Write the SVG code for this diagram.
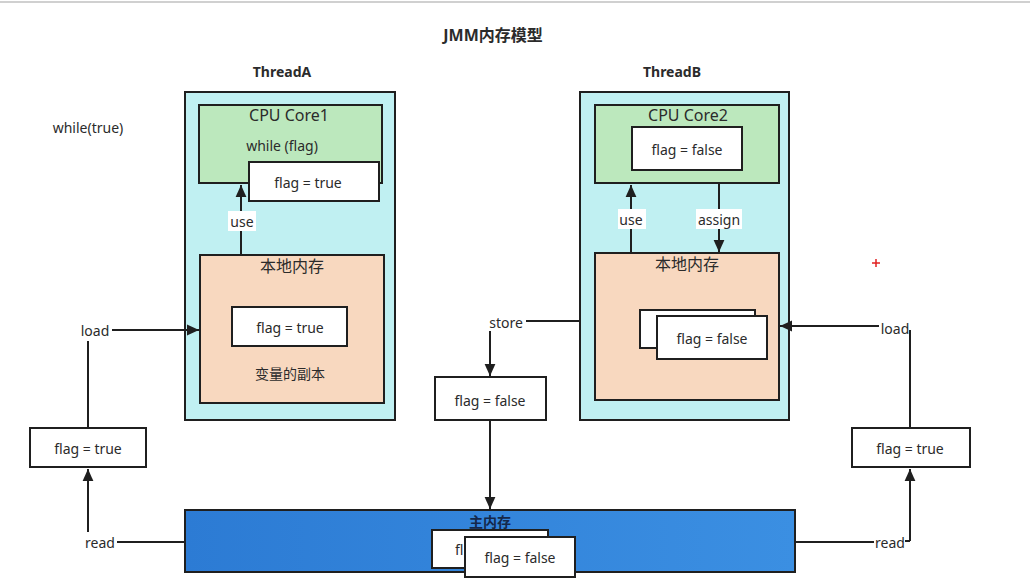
<svg xmlns="http://www.w3.org/2000/svg" width="1030" height="582" viewBox="0 0 1030 582">
<defs>
<marker id="ah" viewBox="0 0 10 10" refX="10" refY="5" markerWidth="6" markerHeight="6" orient="auto" markerUnits="strokeWidth"><path d="M0,0.5 L10,5 L0,9.5 z" fill="#1f1f1f"/></marker>
<linearGradient id="mg" x1="0" y1="0" x2="1" y2="0"><stop offset="0" stop-color="#2c7bd4"/><stop offset="1" stop-color="#3b8fe2"/></linearGradient>
</defs>
<style>
text{font-family:"Noto Sans","Noto Sans CJK SC",sans-serif;fill:#2b2b2b;text-anchor:middle;dominant-baseline:central}
.t{font-size:14px}
.h{font-size:16px}
.b{font-weight:bold;font-size:14px}
.box{stroke:#1f1f1f;stroke-width:2}
.w{fill:#fff}
.ln{fill:none;stroke:#1f1f1f;stroke-width:2}
.lbl{fill:#fff}
</style>
<rect width="1030" height="582" fill="#fff"/>
<line x1="0" y1="2" x2="1030" y2="2" stroke="#d0d0d0" stroke-width="2"/>
<text x="493" y="35" class="b" style="font-size:16px">JMM内存模型</text>
<text x="282" y="71" class="b">ThreadA</text>
<text x="672" y="71" class="b">ThreadB</text>
<text x="88" y="127" class="t">while(true)</text>

<g id="threadA">
<rect x="185" y="92" width="210" height="328" class="box" fill="#c0f0f2"/>
</g>
<g id="core1">
<rect x="199" y="105" width="183" height="78" class="box" fill="#bce8bd"/>
<text x="289" y="115" class="h">CPU Core1</text>
<text x="282" y="145" class="t">while (flag)</text>
</g>
<g id="core1-flag">
<rect x="249" y="162" width="130" height="39" class="box w"/>
<text x="308" y="182" class="t">flag = true</text>
</g>
<g id="localA">
<rect x="200" y="255" width="184" height="148" class="box" fill="#f8d8bf"/>
<text x="292" y="266" class="h">本地内存</text>
<text x="290" y="373" class="t">变量的副本</text>
</g>
<g id="localA-flag">
<rect x="232" y="307" width="115" height="39" class="box w"/>
<text x="290" y="327" class="t">flag = true</text>
</g>

<g id="threadB">
<rect x="580" y="92" width="209" height="328" class="box" fill="#c0f0f2"/>
</g>
<g id="core2">
<rect x="595" y="105" width="184" height="78" class="box" fill="#bce8bd"/>
<text x="688" y="115" class="h">CPU Core2</text>
</g>
<g id="core2-flag">
<rect x="632" y="127" width="110" height="43" class="box w"/>
<text x="687" y="149" class="t">flag = false</text>
</g>
<g id="localB">
<rect x="595" y="253" width="184" height="147" class="box" fill="#f8d8bf"/>
<text x="687" y="264" class="h">本地内存</text>
</g>
<g id="localB-flag">
<rect x="640" y="310" width="115" height="38" class="box w"/>
<rect x="657" y="316" width="110" height="43" class="box w"/>
<text x="712" y="338" class="t">flag = false</text>
</g>

<g id="store-flag">
<rect x="435" y="377" width="111" height="43" class="box w"/>
<text x="490" y="400" class="t">flag = false</text>
</g>
<g id="left-flag">
<rect x="30" y="428" width="116" height="39" class="box w"/>
<text x="88" y="448" class="t">flag = true</text>
</g>
<g id="right-flag">
<rect x="852" y="428" width="118" height="39" class="box w"/>
<text x="910" y="448" class="t">flag = true</text>
</g>

<g id="mainMemory">
<rect x="185" y="510" width="610" height="62" class="box" fill="url(#mg)"/>
<text x="490" y="521" class="b" style="fill:#15284a">主内存</text>
<rect x="432" y="530" width="116" height="38" class="box w"/>
<text x="455" y="549" class="t" style="text-anchor:start">fl</text>
<rect x="465" y="537" width="110" height="40" class="box w"/>
<text x="520" y="557" class="t">flag = false</text>
</g>

<g id="connectors">
<line x1="241" y1="255" x2="241" y2="185" class="ln" marker-end="url(#ah)"/>
<rect x="228" y="211" width="28" height="20" class="lbl"/>
<text x="242" y="221" class="t">use</text>
<line x1="631" y1="253" x2="631" y2="185" class="ln" marker-end="url(#ah)"/>
<rect x="618" y="209" width="28" height="20" class="lbl"/>
<text x="631" y="219" class="t">use</text>
<line x1="719" y1="183" x2="719" y2="252" class="ln" marker-end="url(#ah)"/>
<rect x="696" y="209" width="46" height="20" class="lbl"/>
<text x="719" y="219" class="t">assign</text>

<line x1="112" y1="330" x2="199" y2="330" class="ln" marker-end="url(#ah)"/>
<text x="95" y="330" class="t">load</text>
<line x1="88" y1="341" x2="88" y2="428" class="ln"/>
<line x1="88" y1="532" x2="88" y2="469" class="ln" marker-end="url(#ah)"/>
<text x="100" y="542" class="t">read</text>
<line x1="117" y1="542" x2="185" y2="542" class="ln"/>

<line x1="526" y1="321" x2="580" y2="321" class="ln"/>
<text x="506" y="322" class="t">store</text>
<line x1="490" y1="331" x2="490" y2="376" class="ln" marker-end="url(#ah)"/>
<line x1="490" y1="420" x2="490" y2="509" class="ln" marker-end="url(#ah)"/>

<line x1="879" y1="326" x2="780" y2="326" class="ln" marker-end="url(#ah)"/>
<text x="895" y="328" class="t">load</text>
<line x1="910" y1="330" x2="910" y2="428" class="ln"/>
<line x1="910" y1="541" x2="910" y2="469" class="ln" marker-end="url(#ah)"/>
<line x1="795" y1="542" x2="874" y2="542" class="ln"/>
<line x1="905" y1="541" x2="910" y2="541" class="ln"/>
<text x="890" y="542" class="t">read</text>
</g>
<line x1="872" y1="263" x2="880" y2="263" stroke="#e02020" stroke-width="1.5"/>
<line x1="876" y1="259" x2="876" y2="267" stroke="#e02020" stroke-width="1.5"/>
</svg>
